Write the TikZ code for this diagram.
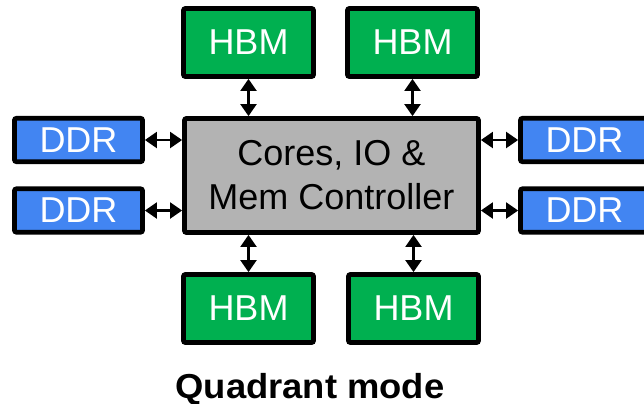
\documentclass[tikz,border=0pt]{standalone}
\usepackage{fontspec}
\setmainfont{Liberation Sans}
\usetikzlibrary{arrows.meta}
\definecolor{hbmgreen}{RGB}{0,176,80}
\definecolor{ddrblue}{RGB}{66,133,242}
\definecolor{coregray}{RGB}{179,179,179}
\begin{document}
\begin{tikzpicture}[x=0.75pt,y=-0.75pt,
    >={Triangle[length=9pt,width=12pt]},
    box/.style={draw=black,line width=3.6pt,rounded corners=1.5pt,inner sep=0pt,
      font=\fontsize{27}{33}\selectfont},
    hbm/.style={box,fill=hbmgreen,text=white,minimum width=97.5pt,minimum height=51pt},
    ddr/.style={box,fill=ddrblue,text=white,minimum width=96pt,minimum height=32.5pt},
    link/.style={<->,line width=1.6pt}]
  \useasboundingbox (0,0) rectangle (644,404);
  \clip (0,0) rectangle (644,404);
  % Kjerne
  \node[box,fill=coregray,align=center,minimum width=220.5pt,minimum height=85.5pt]
    (core) at (331.5,175.5) {Cores, IO \&\\Mem Controller};
  % HBM
  \node[hbm] (hbmA) at (248.5,42.5) {HBM};
  \node[hbm] (hbmB) at (412.5,42.5) {HBM};
  \node[hbm] (hbmC) at (248.5,308.5) {HBM};
  \node[hbm] (hbmD) at (413.5,308.5) {HBM};
  % DDR
  \node[ddr] (ddrA) at (78.5,140) {DDR};
  \node[ddr] (ddrB) at (78.5,210.5) {DDR};
  \node[ddr] (ddrC) at (584.5,140) {DDR};
  \node[ddr] (ddrD) at (584.5,210.5) {DDR};
  % Piler
  \draw[link] (hbmA.south) -- (hbmA.south |- core.north);
  \draw[link] (hbmB.south) -- (hbmB.south |- core.north);
  \draw[link] (hbmC.north) -- (hbmC.north |- core.south);
  \draw[link] (hbmD.north) -- (hbmD.north |- core.south);
  \draw[link] (ddrA.east) -- (ddrA.east -| core.west);
  \draw[link] (ddrB.east) -- (ddrB.east -| core.west);
  \draw[link] (ddrC.west) -- (ddrC.west -| core.east);
  \draw[link] (ddrD.west) -- (ddrD.west -| core.east);
  % Tittel
  \node[font=\fontsize{26}{30}\selectfont\bfseries,inner sep=0pt,anchor=base] (title) at (310,398)
    {\scalebox{1.05}[1]{Quadrant mode}};
\end{tikzpicture}
\end{document}
